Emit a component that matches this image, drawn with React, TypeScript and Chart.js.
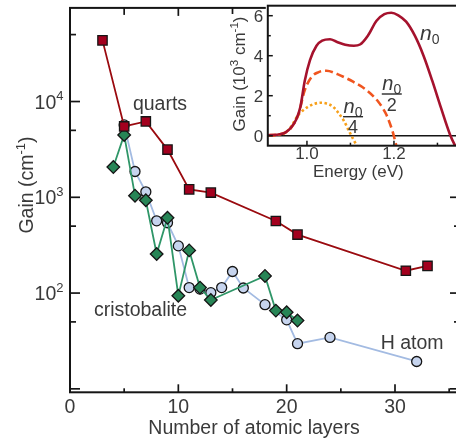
import React, { useEffect, useRef } from "react";
import { Chart, registerables } from "chart.js";

Chart.register(...registerables);

// ---------- main panel data ----------
const quartzLayers = [3, 5, 7, 9, 11, 13, 19, 21, 31, 33];
const quartzGain = [43500, 5500, 6200, 3150, 1210, 1120, 565, 408, 171, 192];

const cristobaliteLayers = [4, 5, 6, 7, 8, 9, 10, 11, 12, 13, 18, 19, 20, 21];
const cristobaliteGain = [2070, 4480, 1040, 931, 256, 611, 93.8, 279, 114, 84.6, 151, 65.6, 63, 51.6];

const hAtomLayers = [5, 6, 7, 8, 9, 10, 11, 12, 13, 14, 15, 16, 18, 20, 21, 24, 32];
const hAtomGain = [5700, 1860, 1140, 568, 542, 311, 114, 110, 101, 114, 168, 113, 75.7, 52.5, 29.6, 34.4, 19.3];

const xMajorTicks = [0, 10, 20, 30];
const xMinorTicks = [5, 15, 25, 35];
const yMajorTicks = [10, 100, 1000, 10000];
const yMinorTicks = [50, 500, 5000, 50000];
const yLabelExponents = [2, 3, 4];

const seriesLabels = [
  { text: "quarts", x: 8.31, y: 9380 },
  { text: "cristobalite", x: 6.51, y: 65.6 },
  { text: "H atom", x: 31.58, y: 29.9 },
];

// ---------- inset data ----------
const energyN0 = [0.91, 0.93, 0.95, 0.965, 0.975, 0.985, 0.995, 1.007, 1.022, 1.035, 1.053, 1.068, 1.088, 1.108, 1.122, 1.14, 1.16, 1.178, 1.194, 1.21, 1.228, 1.248, 1.268, 1.288, 1.308, 1.329, 1.345];
const gainN0 = [0.02, 0.05, 0.15, 0.45, 0.8, 1.45, 2.75, 3.78, 4.5, 4.75, 4.82, 4.7, 4.55, 4.5, 4.56, 5.0, 5.75, 6.08, 6.15, 6.02, 5.7, 5.0, 4.0, 2.75, 1.4, 0.05, -0.7];

const energyHalf = [0.91, 0.94, 0.96, 0.97, 0.98, 0.995, 1.011, 1.027, 1.045, 1.07, 1.09, 1.106, 1.137, 1.164, 1.175, 1.183, 1.197, 1.206];
const gainHalf = [0.02, 0.08, 0.3, 0.6, 1.03, 2.28, 2.95, 3.18, 3.25, 3.08, 2.88, 2.7, 2.28, 1.7, 1.35, 1.03, 0.2, -0.55];

const energyQuarter = [0.91, 0.93, 0.95, 0.965, 0.978, 0.99, 1.003, 1.018, 1.032, 1.046, 1.06, 1.072, 1.084, 1.097, 1.107, 1.116];
const gainQuarter = [0, 0.03, 0.15, 0.5, 0.98, 1.25, 1.45, 1.6, 1.65, 1.6, 1.45, 1.15, 0.78, 0.22, -0.2, -0.55];

const insetYMajor = [0, 2, 4, 6];
const insetYMinor = [1, 3, 5];
const insetXMajor = [1.0, 1.2];
const insetXMinor = [1.1, 1.3];

const FONT = '"Liberation Sans", Arial, Helvetica, sans-serif';
const TEXT = "#3a3a3a";
const AXIS = "#151515";

function line(ctx: CanvasRenderingContext2D, x1: number, y1: number, x2: number, y2: number) {
  ctx.beginPath();
  ctx.moveTo(x1, y1);
  ctx.lineTo(x2, y2);
  ctx.stroke();
}

// draws base + superscript, centered (align "center") or right-aligned at x
function drawSup(ctx: CanvasRenderingContext2D, base: string, sup: string, x: number, y: number, size: number, supSize: number, align: "right" | "center") {
  ctx.font = `${size}px ${FONT}`;
  const wb = ctx.measureText(base).width;
  ctx.font = `${supSize}px ${FONT}`;
  const ws = ctx.measureText(sup).width;
  const total = wb + ws;
  const start = align === "right" ? x - total : x - total / 2;
  ctx.textAlign = "left";
  ctx.font = `${size}px ${FONT}`;
  ctx.fillText(base, start, y);
  ctx.font = `${supSize}px ${FONT}`;
  ctx.fillText(sup, start + wb, y - size * 0.42);
}

// sequence of [text, size, yOffset] parts centered at x
function drawParts(ctx: CanvasRenderingContext2D, parts: [string, number, number][], x: number, y: number) {
  let total = 0;
  const widths = parts.map(([t, s]) => {
    ctx.font = `${s}px ${FONT}`;
    const w = ctx.measureText(t).width;
    total += w;
    return w;
  });
  let cx = x - total / 2;
  ctx.textAlign = "left";
  parts.forEach(([t, s, dy], i) => {
    ctx.font = `${s}px ${FONT}`;
    ctx.fillText(t, cx, y + dy);
    cx += widths[i];
  });
}

function drawN0(ctx: CanvasRenderingContext2D, x: number, y: number, size: number, center: boolean) {
  ctx.font = `italic ${size}px ${FONT}`;
  const wn = ctx.measureText("n").width;
  const subSize = Math.round(size * 0.68);
  ctx.font = `${subSize}px ${FONT}`;
  const w0 = ctx.measureText("0").width;
  const start = center ? x - (wn + w0) / 2 : x;
  ctx.textAlign = "left";
  ctx.font = `italic ${size}px ${FONT}`;
  ctx.fillText("n", start, y);
  ctx.font = `${subSize}px ${FONT}`;
  ctx.fillText("0", start + wn, y + size * 0.2);
}

const mainAxesPlugin = {
  id: "mainAxes",
  afterDraw(chart: any) {
    const { ctx, chartArea: a, scales } = chart;
    const xs = scales.x;
    const ys = scales.y;
    ctx.save();
    ctx.strokeStyle = AXIS;
    ctx.lineWidth = 2;
    ctx.strokeRect(a.left, a.top, a.right - a.left, a.bottom - a.top);
    ctx.lineWidth = 1.7;
    xMajorTicks.forEach((v) => {
      const p = xs.getPixelForValue(v);
      line(ctx, p, a.bottom, p, a.bottom - 8);
      line(ctx, p, a.top, p, a.top + 8);
    });
    xMinorTicks.forEach((v) => {
      const p = xs.getPixelForValue(v);
      line(ctx, p, a.bottom, p, a.bottom - 4);
      line(ctx, p, a.top, p, a.top + 7);
    });
    yMajorTicks.forEach((v) => {
      const p = ys.getPixelForValue(v);
      line(ctx, a.left, p, a.left + 10, p);
      line(ctx, a.right, p, a.right - 10, p);
    });
    yMinorTicks.forEach((v) => {
      const p = ys.getPixelForValue(v);
      line(ctx, a.left, p, a.left + 6, p);
      line(ctx, a.right, p, a.right - 6, p);
    });

    ctx.fillStyle = TEXT;
    ctx.textBaseline = "alphabetic";
    ctx.font = `19.5px ${FONT}`;
    ctx.textAlign = "center";
    xMajorTicks.forEach((v) => {
      ctx.fillText(String(v), xs.getPixelForValue(v), a.bottom + 21);
    });
    yLabelExponents.forEach((e) => {
      const p = ys.getPixelForValue(Math.pow(10, e));
      drawSup(ctx, "10", String(e), a.left - 6.5, p + 7, 19.5, 13, "right");
    });

    // x title
    ctx.font = `19.5px ${FONT}`;
    ctx.textAlign = "center";
    ctx.fillText("Number of atomic layers", a.left + 184, a.bottom + 42);

    // y title
    ctx.save();
    ctx.translate(33, 185);
    ctx.rotate(-Math.PI / 2);
    drawParts(ctx, [["Gain (cm", 19.5, 0], ["-1", 13, -8], [")", 19.5, 0]], 0, 0);
    ctx.restore();

    // series labels
    ctx.font = `19.5px ${FONT}`;
    ctx.textAlign = "center";
    ctx.textBaseline = "middle";
    seriesLabels.forEach((l) => {
      ctx.fillText(l.text, xs.getPixelForValue(l.x), ys.getPixelForValue(l.y));
    });
    ctx.restore();
  },
};

const insetPlugin = {
  id: "insetAxes",
  beforeDraw(chart: any) {
    const { ctx, chartArea: a, width, height } = chart;
    ctx.save();
    ctx.fillStyle = "#ffffff";
    ctx.fillRect(3, 14, width - 3, height - 14);
    ctx.fillRect(a.left - 2, 0, width - a.left + 2, height);
    ctx.restore();
  },
  beforeDatasetsDraw(chart: any) {
    const { ctx, chartArea: a, scales } = chart;
    ctx.save();
    ctx.strokeStyle = AXIS;
    ctx.lineWidth = 1.6;
    const p0 = scales.y.getPixelForValue(0);
    line(ctx, a.left, p0, a.right, p0);
    ctx.restore();
  },
  afterDraw(chart: any) {
    const { ctx, chartArea: a, scales } = chart;
    const xs = scales.x;
    const ys = scales.y;
    ctx.save();
    ctx.strokeStyle = AXIS;
    ctx.lineWidth = 2;
    ctx.strokeRect(a.left, a.top, a.right - a.left, a.bottom - a.top);
    ctx.lineWidth = 1.5;
    insetYMajor.forEach((v) => {
      const p = ys.getPixelForValue(v);
      line(ctx, a.left, p, a.left + 5, p);
    });
    insetYMinor.forEach((v) => {
      const p = ys.getPixelForValue(v);
      line(ctx, a.left, p, a.left + 3, p);
    });
    insetXMajor.forEach((v) => {
      const p = xs.getPixelForValue(v);
      line(ctx, p, a.bottom, p, a.bottom - 5);
    });
    insetXMinor.forEach((v) => {
      const p = xs.getPixelForValue(v);
      line(ctx, p, a.bottom, p, a.bottom - 3);
    });

    ctx.fillStyle = TEXT;
    ctx.textBaseline = "alphabetic";
    ctx.font = `17px ${FONT}`;
    ctx.textAlign = "right";
    insetYMajor.forEach((v) => {
      ctx.fillText(String(v), a.left - 4.5, ys.getPixelForValue(v) + 6);
    });
    ctx.textAlign = "center";
    insetXMajor.forEach((v) => {
      ctx.fillText(v.toFixed(1), xs.getPixelForValue(v), a.bottom + 13.6);
    });
    ctx.fillText("Energy (eV)", a.left + 90.5, a.bottom + 31);

    ctx.save();
    ctx.translate(20, 74);
    ctx.rotate(-Math.PI / 2);
    drawParts(ctx, [["Gain (10", 17, 0], ["3", 11.5, -7], [" cm", 17, 0], ["-1", 11.5, -7], [")", 17, 0]], 0, 0);
    ctx.restore();

    // curve labels
    drawN0(ctx, xs.getPixelForValue(1.26), ys.getPixelForValue(4.79), 21, false);

    const frac = (e: number, g: number, denom: string) => {
      const cx = xs.getPixelForValue(e);
      const ly = ys.getPixelForValue(g);
      drawN0(ctx, cx, ly - 4, 20, true);
      ctx.lineWidth = 1.4;
      ctx.strokeStyle = "#2a2a2a";
      line(ctx, cx - 10, ly, cx + 10, ly);
      ctx.font = `18px ${FONT}`;
      ctx.textAlign = "center";
      ctx.fillText(denom, cx, ly + 16.5);
    };
    frac(1.195, 2.085, "2");
    frac(1.106, 0.95, "4");
    ctx.restore();
  },
};

export default function App() {
  const mainRef = useRef<HTMLCanvasElement>(null);
  const insetRef = useRef<HTMLCanvasElement>(null);

  useEffect(() => {
    const toPts = (xs: number[], ys: number[]) => xs.map((x, i) => ({ x, y: ys[i] }));
    const main = new Chart(mainRef.current as HTMLCanvasElement, {
      type: "scatter",
      data: {
        datasets: [
          {
            label: "quarts",
            data: toPts(quartzLayers, quartzGain),
            showLine: true,
            borderColor: "#9a0a0f",
            borderWidth: 1.8,
            pointStyle: "rect",
            pointRadius: 6.6,
            pointBackgroundColor: "#a3001e",
            pointBorderColor: "#151515",
            pointBorderWidth: 1.3,
          },
          {
            label: "cristobalite",
            data: toPts(cristobaliteLayers, cristobaliteGain),
            showLine: true,
            borderColor: "#2f9668",
            borderWidth: 1.8,
            pointStyle: "rectRot",
            pointRadius: 6.3,
            pointBackgroundColor: "#278556",
            pointBorderColor: "#151515",
            pointBorderWidth: 1.3,
          },
          {
            label: "H atom",
            data: toPts(hAtomLayers, hAtomGain),
            showLine: true,
            borderColor: "#a3bbe2",
            borderWidth: 1.8,
            pointStyle: "circle",
            pointRadius: 5,
            pointBackgroundColor: "#c6d4ee",
            pointBorderColor: "#151515",
            pointBorderWidth: 1.3,
          },
        ],
      },
      options: {
        animation: false,
        responsive: false,
        events: [],
        layout: { padding: { left: 70, top: 5, right: 10, bottom: 48.7 } },
        plugins: { legend: { display: false }, tooltip: { enabled: false } },
        scales: {
          x: { type: "linear", min: 0, max: 36, display: false },
          y: { type: "logarithmic", min: 9.2, max: 95000, display: false },
        },
      },
      plugins: [mainAxesPlugin],
    });

    const inset = new Chart(insetRef.current as HTMLCanvasElement, {
      type: "scatter",
      data: {
        datasets: [
          {
            label: "n0",
            data: toPts(energyN0, gainN0),
            showLine: true,
            borderColor: "#a5122d",
            borderWidth: 2.6,
            pointRadius: 0,
            cubicInterpolationMode: "monotone",
          },
          {
            label: "n0/2",
            data: toPts(energyHalf, gainHalf),
            showLine: true,
            borderColor: "#f0551f",
            borderWidth: 2.6,
            borderDash: [8, 4],
            pointRadius: 0,
            cubicInterpolationMode: "monotone",
          },
          {
            label: "n0/4",
            data: toPts(energyQuarter, gainQuarter),
            showLine: true,
            borderColor: "#f7a01a",
            borderWidth: 2.6,
            borderDash: [2.5, 2.5],
            pointRadius: 0,
            cubicInterpolationMode: "monotone",
          },
        ],
      },
      options: {
        animation: false,
        responsive: false,
        events: [],
        layout: { padding: { left: 42.8, top: 5.7, right: 10.8, bottom: 44.3 } },
        plugins: { legend: { display: false }, tooltip: { enabled: false } },
        scales: {
          x: { type: "linear", min: 0.91, max: 1.35, display: false },
          y: { type: "linear", min: -0.5, max: 6.5, display: false },
        },
      },
      plugins: [insetPlugin],
    });

    return () => {
      main.destroy();
      inset.destroy();
    };
  }, []);

  return (
    <div
      style={{
        position: "fixed",
        left: 0,
        top: 0,
        width: 456,
        height: 441,
        overflow: "hidden",
        background: "#ffffff",
      }}
    >
      <canvas
        ref={mainRef}
        width={470}
        height={441}
        style={{ position: "absolute", left: 0, top: 0, width: 470, height: 441 }}
      />
      <canvas
        ref={insetRef}
        width={245}
        height={190}
        style={{ position: "absolute", left: 225, top: 0, width: 245, height: 190 }}
      />
    </div>
  );
}
